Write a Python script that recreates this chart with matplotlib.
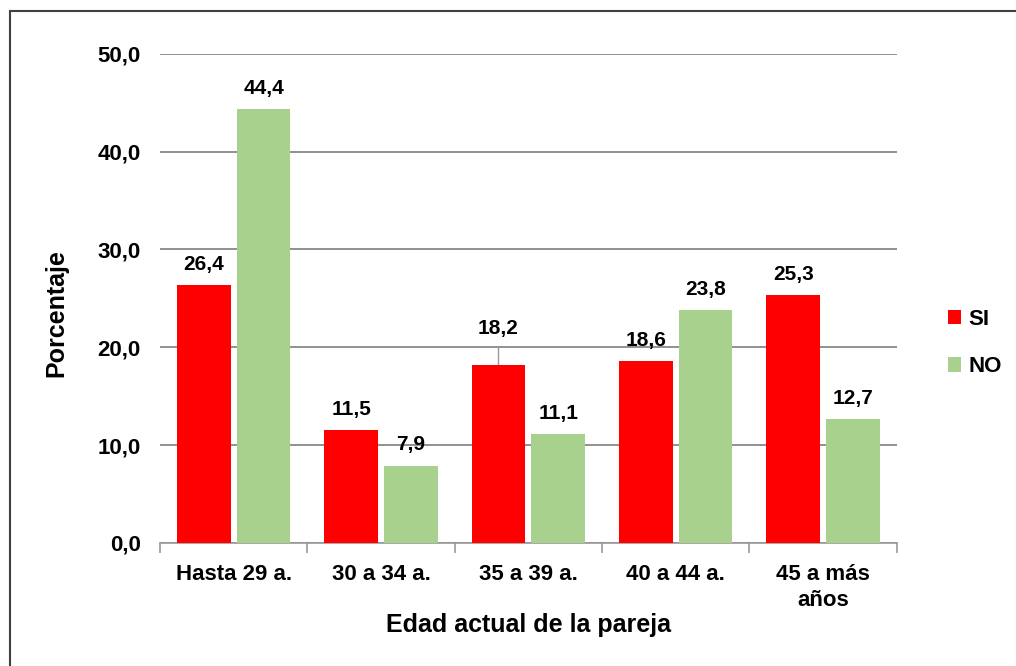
import matplotlib.pyplot as plt
import numpy as np
from matplotlib.patches import Rectangle

plt.rcParams['font.family'] = ['Liberation Sans', 'DejaVu Sans']
plt.rcParams['font.weight'] = 'bold'

categorias = ["Hasta 29 a.", "30 a 34 a.", "35 a 39 a.", "40 a 44 a.", "45 a más\naños"]
si = [26.4, 11.5, 18.2, 18.6, 25.3]
no = [44.4, 7.9, 11.1, 23.8, 12.7]
yticks = [0, 10, 20, 30, 40, 50]

rojo = "#FF0000"
verde = "#A9D18E"

fig = plt.figure(figsize=(10.16, 6.66), dpi=100)
ax = fig.add_axes([0.1575, 0.185, 0.725, 0.734])

x = np.arange(len(categorias))
w = 0.365
gap = 0.02
b1 = ax.bar(x - w / 2 - gap, si, w, color=rojo, label="SI", zorder=3)
b2 = ax.bar(x + w / 2 + gap, no, w, color=verde, label="NO", zorder=3)

# etiquetas de datos
for rect, v in zip(b1, si):
    dy = 19 if v == 18.2 else 8
    ax.annotate(f"{v:.1f}".replace(".", ","), (rect.get_x() + rect.get_width() / 2, v),
                xytext=(0, dy), textcoords="offset points", ha="center", va="bottom",
                fontsize=15, fontweight="bold")
for rect, v in zip(b2, no):
    ax.annotate(f"{v:.1f}".replace(".", ","), (rect.get_x() + rect.get_width() / 2, v),
                xytext=(0, 8), textcoords="offset points", ha="center", va="bottom",
                fontsize=15, fontweight="bold")

# linea guia de la etiqueta 18,2 (como en Excel)
r = b1[2]
ax.plot([r.get_x() + r.get_width() / 2] * 2, [18.2, 20.0], color="#999999", lw=1, zorder=2)

ax.set_ylim(0, 50)
ax.set_xlim(-0.5, len(categorias) - 0.5)
ax.set_yticks(yticks)
ax.set_yticklabels([f"{t:.1f}".replace(".", ",") for t in yticks], fontsize=16, fontweight="bold")
ax.yaxis.grid(True, color="#888888", lw=1.3, zorder=0)
ax.tick_params(axis="y", length=0, pad=14)

ax.set_xticks(x)
ax.set_xticklabels(categorias, fontsize=16, fontweight="bold", linespacing=1.35)
ax.set_xticks(np.arange(-0.5, len(categorias)), minor=True)
ax.tick_params(axis="x", which="major", length=0, pad=15)
ax.tick_params(axis="x", which="minor", length=7, color="#999999", width=1.2)

for s in ["top", "right", "left"]:
    ax.spines[s].set_visible(False)
ax.spines["bottom"].set_color("#999999")
ax.spines["bottom"].set_linewidth(1.2)

ax.set_ylabel("Porcentaje", fontsize=18, fontweight="bold")
ax.yaxis.set_label_coords(-0.124, 0.47)
ax.set_xlabel("Edad actual de la pareja", fontsize=18, fontweight="bold", labelpad=1)

leg = fig.legend(handles=[b1, b2], labels=["SI", "NO"], loc="center left",
                 bbox_to_anchor=(0.913, 0.485), frameon=False,
                 handlelength=0.6, handleheight=0.6, handletextpad=0.35, labelspacing=1.2,
                 prop={"weight": "bold", "size": 16})

# borde del grafico
fig.patches.append(Rectangle((10 / 1016, -0.1), 1.2, 1 - 11 / 666 + 0.1,
                             transform=fig.transFigure, fill=False,
                             edgecolor="#404040", lw=1.5))

fig.savefig("out.png", dpi=100)
